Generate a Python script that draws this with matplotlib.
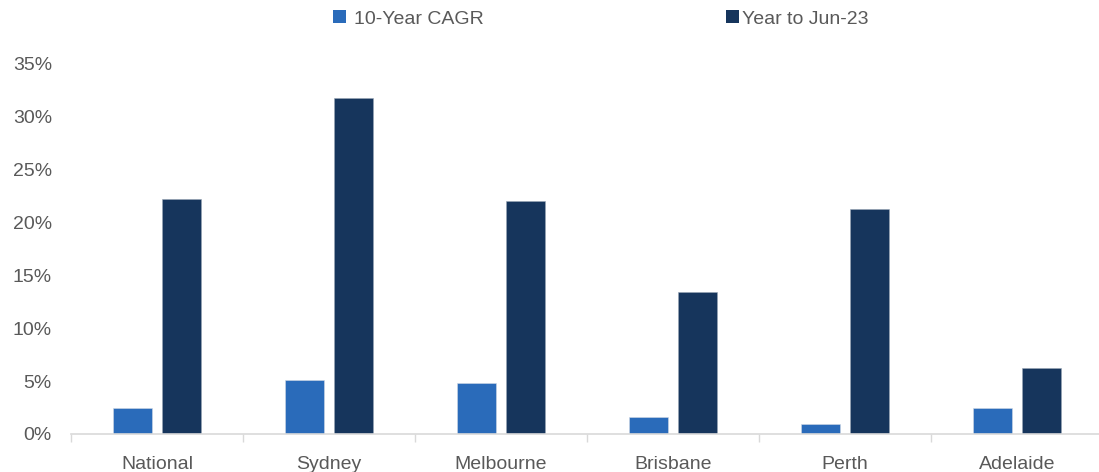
import numpy as np
import matplotlib.pyplot as plt
from matplotlib.patches import Patch
from matplotlib.ticker import FuncFormatter

plt.rcParams['font.family'] = ['Liberation Sans', 'DejaVu Sans']

# growth by city, in percent
cities = ["National", "Sydney", "Melbourne", "Brisbane", "Perth", "Adelaide"]
cagr_10yr = [2.45, 5.1, 4.8, 1.6, 0.95, 2.45]
year_to_jun23 = [22.2, 31.8, 22.0, 13.4, 21.3, 6.2]
series_names = ["10-Year CAGR", "Year to Jun-23"]

light_blue = "#2A6BBA"
navy = "#16355C"
grey_txt = "#595959"

W, H = 1099, 472
fig = plt.figure(figsize=(W / 100, H / 100), dpi=100)
ax = fig.add_axes([71 / W, 38 / H, 1032 / W, 370 / H])

x = np.arange(len(cities))
w = 0.227
ax.bar(x - 0.143, cagr_10yr, w, color=light_blue, edgecolor="#d0d8e4", linewidth=0.4)
ax.bar(x + 0.143, year_to_jun23, w, color=navy, edgecolor="#9aa6b5", linewidth=0.4)

ax.set_xlim(-0.5, len(cities) - 0.5)
ax.set_ylim(0, 35)
ax.set_yticks(np.arange(0, 36, 5))
ax.yaxis.set_major_formatter(FuncFormatter(lambda v, p: f"{v:.0f}%"))
ax.tick_params(axis="y", length=0, pad=13.7, labelsize=14, labelcolor=grey_txt)

ax.set_xticks(x)
ax.set_xticklabels(cities)
ax.set_xticks(np.arange(-0.5, len(cities), 1), minor=True)
ax.tick_params(axis="x", which="major", length=0, pad=16, labelsize=14, labelcolor=grey_txt)
ax.tick_params(axis="x", which="minor", length=6, width=1, color="#d9d9d9")

for s in ["top", "right", "left"]:
    ax.spines[s].set_visible(False)
ax.spines["bottom"].set_color("#d9d9d9")
ax.spines["bottom"].set_linewidth(1.2)

# two legend entries, placed separately across the top
colors = [light_blue, navy]
anchors = [333 / W, 726 / W]
pads = [0.45, 0.15]
for name, c, xa, tp in zip(series_names, colors, anchors, pads):
    fig.legend([Patch(facecolor=c)], [name], loc="center left", bbox_to_anchor=(xa, 1 - 19 / H),
               frameon=False, fontsize=14, labelcolor=grey_txt, handlelength=0.65,
               handleheight=0.65, handletextpad=tp, borderpad=0, borderaxespad=0)

fig.savefig("out.png", dpi=100)
